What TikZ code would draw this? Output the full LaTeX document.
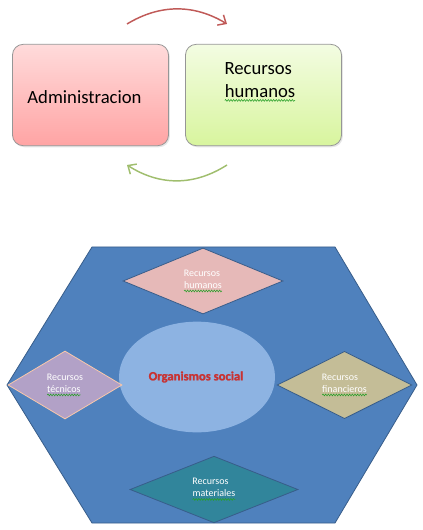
\documentclass[tikz,border=0pt]{standalone}
\usepackage{fontspec}
\setmainfont{Carlito}
\newfontfamily\orgfont[FakeBold=1.6]{Carlito}
\usepackage{tikz}
\usetikzlibrary{shapes.geometric, arrows.meta, shadows, decorations.pathmorphing}
\definecolor{admtop}{RGB}{255,219,219}
\definecolor{admbot}{RGB}{255,164,164}
\definecolor{rhtop}{RGB}{243,252,226}
\definecolor{rhbot}{RGB}{216,245,158}
\definecolor{boxline}{RGB}{150,150,150}
\definecolor{arrred}{RGB}{192,90,88}
\definecolor{arrgreen}{RGB}{160,190,110}
\definecolor{hexblue}{RGB}{79,129,189}
\definecolor{hexline}{RGB}{56,93,138}
\definecolor{ellblue}{RGB}{141,179,226}
\definecolor{orgred}{RGB}{200,50,50}
\definecolor{dpink}{RGB}{230,185,184}
\definecolor{dpurple}{RGB}{178,161,199}
\definecolor{dtan}{RGB}{196,189,151}
\definecolor{dteal}{RGB}{49,133,155}
\definecolor{dpeach}{RGB}{250,200,170}
\definecolor{wavegreen}{RGB}{40,160,40}
% spell-check squiggle under a word
\newcommand\squig[1]{\tikz[baseline=(w.base)]{\node[rectangle, draw=none, fill=none, inner sep=0pt,
    outer sep=0pt, minimum width=0pt, minimum height=0pt, anchor=base] (w) {#1};
  \draw[wavegreen, line width=0.4pt, decorate, decoration={snake, amplitude=0.7pt, segment length=2pt}]
    ([yshift=-2pt]w.base west) -- ([yshift=-2pt]w.base east);}}
\tikzset{
  topbox/.style={rectangle, draw=boxline, rounded corners=8pt,
    minimum width=117pt, minimum height=76pt, line width=0.6pt,
    drop shadow={opacity=0.2, shadow xshift=1pt, shadow yshift=-1.2pt}},
  bigtext/.style={font=\fontsize{14}{17.5}\selectfont, align=left, inner sep=0pt},
  cyclearrow/.style={line width=1.1pt, -{Straight Barb[length=5pt, width=9pt]}},
  diam/.style={diamond, draw=hexline, line width=0.6pt, inner sep=0pt,
    text=white, font=\fontsize{7.5}{9}\selectfont, align=left},
  orgtext/.style={font=\fontsize{9.5}{11}\selectfont\orgfont\bfseries, text=orgred}
}

\begin{document}
\begin{tikzpicture}[x=0.75pt, y=-0.75pt]
  \useasboundingbox (0,0) rectangle (423,530);

  % Top cycle
  \node[topbox, top color=admtop, bottom color=admbot] (adm) at (90.5,95) {};
  \node[topbox, top color=rhtop, bottom color=rhbot] (rh) at (263.5,95) {};
  \node[bigtext] (admtext) at (84.5,97) {Administracion};
  \node[bigtext] (rhtext) at (260,82) {Recursos\\\squig{humanos}};

  \coordinate (topL) at (127,24);
  \coordinate (topR) at (227,24);
  \coordinate (botR) at (227,165);
  \coordinate (botL) at (127,165);
  \draw[cyclearrow, arrred] (topL) .. controls (160,4) and (194,4) .. (topR);
  \draw[cyclearrow, arrgreen] (botR) .. controls (194,186) and (160,186) .. (botL);

  % Hexagon
  \coordinate (H1) at (92,247);
  \coordinate (H2) at (335,247);
  \coordinate (H3) at (417,385);
  \coordinate (H4) at (335,523);
  \coordinate (H5) at (92,523);
  \coordinate (H6) at (7,385);
  \draw[fill=hexblue, draw=hexline, line width=0.6pt] (H1) -- (H2) -- (H3) -- (H4) -- (H5) -- (H6) -- cycle;

  % Centre
  \node[ellipse, fill=ellblue, minimum width=117pt, minimum height=83pt] (org) at (197,377) {};
  \node[orgtext] (orgtxt) at (196,377) {Organismos social};

  % Resources
  \node[diam, fill=dpink, minimum width=120pt, minimum height=49.5pt] (hum) at (203,281)
    {Recursos\\\squig{humanos}};
  \node[diam, fill=dpurple, draw=dpeach, minimum width=85.5pt, minimum height=51pt] (tec) at (65,385)
    {Recursos\\\squig{técnicos}};
  \node[diam, fill=dtan, minimum width=101pt, minimum height=43.5pt] (fin) at (344.5,385)
    {Recursos\\\squig{financieros}};
  \node[diam, fill=dteal, minimum width=126pt, minimum height=50pt] (mat) at (214,489.5)
    {Recursos\\\squig{materiales}};
\end{tikzpicture}
\end{document}
